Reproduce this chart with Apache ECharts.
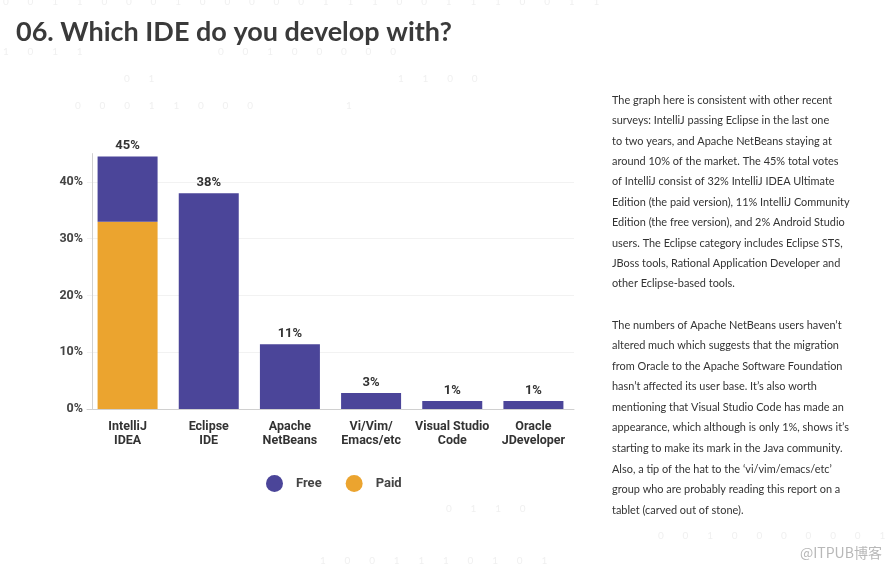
<!DOCTYPE html>
<html>
<head>
<meta charset="utf-8">
<script src="https://cdn.jsdelivr.net/npm/echarts@6/dist/echarts.min.js"></script>
<style>
html,body{margin:0;padding:0;background:#fff;}
#c{width:890px;height:570px;}
</style>
</head>
<body>
<div id="c"></div>
<script>
var categories = ['IntelliJ\nIDEA', 'Eclipse\nIDE', 'Apache\nNetBeans', 'Vi/Vim/\nEmacs/etc', 'Visual Studio\nCode', 'Oracle\nJDeveloper'];
var paidValues = [33, null, null, null, null, null];
var freeValues = [11.5, 38, 11.4, 2.8, 1.4, 1.4];
var yTicks = [0, 10, 20, 30, 40];
var titleText = '06. Which IDE do you develop with?';
var para1 = [
  'The graph here is consistent with other recent',
  'surveys: IntelliJ passing Eclipse in the last one',
  'to two years, and Apache NetBeans staying at',
  'around 10% of the market. The 45% total votes',
  'of IntelliJ consist of 32% IntelliJ IDEA Ultimate',
  'Edition (the paid version), 11% IntelliJ Community',
  'Edition (the free version), and 2% Android Studio',
  'users. The Eclipse category includes Eclipse STS,',
  'JBoss tools, Rational Application Developer and',
  'other Eclipse-based tools.'
];
var para2 = [
  'The numbers of Apache NetBeans users haven\u2019t',
  'altered much which suggests that the migration',
  'from Oracle to the Apache Software Foundation',
  'hasn\u2019t affected its user base. It\u2019s also worth',
  'mentioning that Visual Studio Code has made an',
  'appearance, which although is only 1%, shows it\u2019s',
  'starting to make its mark in the Java community.',
  'Also, a tip of the hat to the \u2018vi/vim/emacs/etc\u2019',
  'group who are probably reading this report on a',
  'tablet (carved out of stone).'
];
var watermark = '@ITPUB\u535a\u5ba2';
var bgDigitRows = [
  {x: 3, y: 3, t: '0011000100000111001110011'},
  {x: 3, y: 53, t: '1011'},
  {x: 218, y: 53, t: '00100000'},
  {x: 124, y: 80, t: '01'},
  {x: 398, y: 80, t: '1100'},
  {x: 75, y: 107, t: '00011000'},
  {x: 346, y: 107, t: '1'},
  {x: 446, y: 510, t: '0110'},
  {x: 320, y: 562, t: '1001110101'},
  {x: 658, y: 537, t: '0010000001'}
];

var chart = echarts.init(document.getElementById('c'));

var graphics = [];
bgDigitRows.forEach(function (d) {
  d.t.split('').forEach(function (ch, k) {
    graphics.push({type: 'text', left: d.x + k * 24.6, top: d.y - 6, silent: true,
      style: {text: ch, fill: '#f0f0f0', font: '10px Lato'}});
  });
});
graphics.push({type: 'text', left: 16, top: 19,
  style: {text: titleText, fill: '#3a3a3a', font: 'bold 27px Lato'}});
para1.forEach(function (l, i) {
  graphics.push({type: 'text', x: 612, y: 100 + i * 20.4 - 6, scaleX: 0.95,
    style: {text: l, fill: '#333', font: '11.5px Lato'}});
});
para2.forEach(function (l, i) {
  graphics.push({type: 'text', x: 612, y: 325 + i * 20.55 - 6, scaleX: 0.95,
    style: {text: l, fill: '#333', font: '11.5px Lato'}});
});
graphics.push({type: 'text', left: 800, top: 546,
  style: {text: watermark, fill: '#b8b8b8', font: '14px "Noto Sans CJK SC"'}});

chart.setOption({
  backgroundColor: '#fff',
  animation: false,
  graphic: graphics,
  grid: {left: 87, right: 316, top: 153.6, bottom: 161},
  legend: {
    left: 261, top: 470,
    icon: 'circle', itemWidth: 17, itemHeight: 17, itemGap: 24,
    data: ['Free', 'Paid'],
    textStyle: {color: '#444', fontSize: 13, fontWeight: 'bold', fontFamily: 'Roboto', padding: [0, 0, 0, 8]}
  },
  xAxis: {
    type: 'category',
    data: categories,
    axisLine: {lineStyle: {color: '#d0d0d0'}},
    axisTick: {show: false},
    axisLabel: {interval: 0, color: '#333', fontSize: 12.5, fontWeight: 'bold', fontFamily: 'Roboto', lineHeight: 14, margin: 11}
  },
  yAxis: {
    type: 'value', min: 0, max: 45, interval: 10, offset: -5,
    axisLine: {show: true, lineStyle: {color: '#d0d0d0'}},
    axisTick: {show: false},
    splitLine: {lineStyle: {color: '#f2f2f2'}, showMaxLine: false},
    axisLabel: {showMaxLabel: false, color: '#444', fontSize: 12.5, fontWeight: 'bold', fontFamily: 'Roboto', margin: 9,
      formatter: function (v) { return yTicks.indexOf(v) >= 0 ? v + '%' : ''; }}
  },
  series: [
    {name: 'Paid', type: 'bar', stack: 'ide', data: paidValues, barWidth: 60,
      itemStyle: {color: '#EBA42F'}},
    {name: 'Free', type: 'bar', stack: 'ide', data: freeValues, barWidth: 60,
      itemStyle: {color: '#4B4599'},
      label: {show: true, position: 'top', distance: 4, color: '#333', fontSize: 13, fontWeight: 'bold', fontFamily: 'Roboto',
        formatter: function (p) {
          var total = (paidValues[p.dataIndex] || 0) + (freeValues[p.dataIndex] || 0);
          return Math.round(total) + '%';
        }}}
  ]
});
</script>
</body>
</html>
